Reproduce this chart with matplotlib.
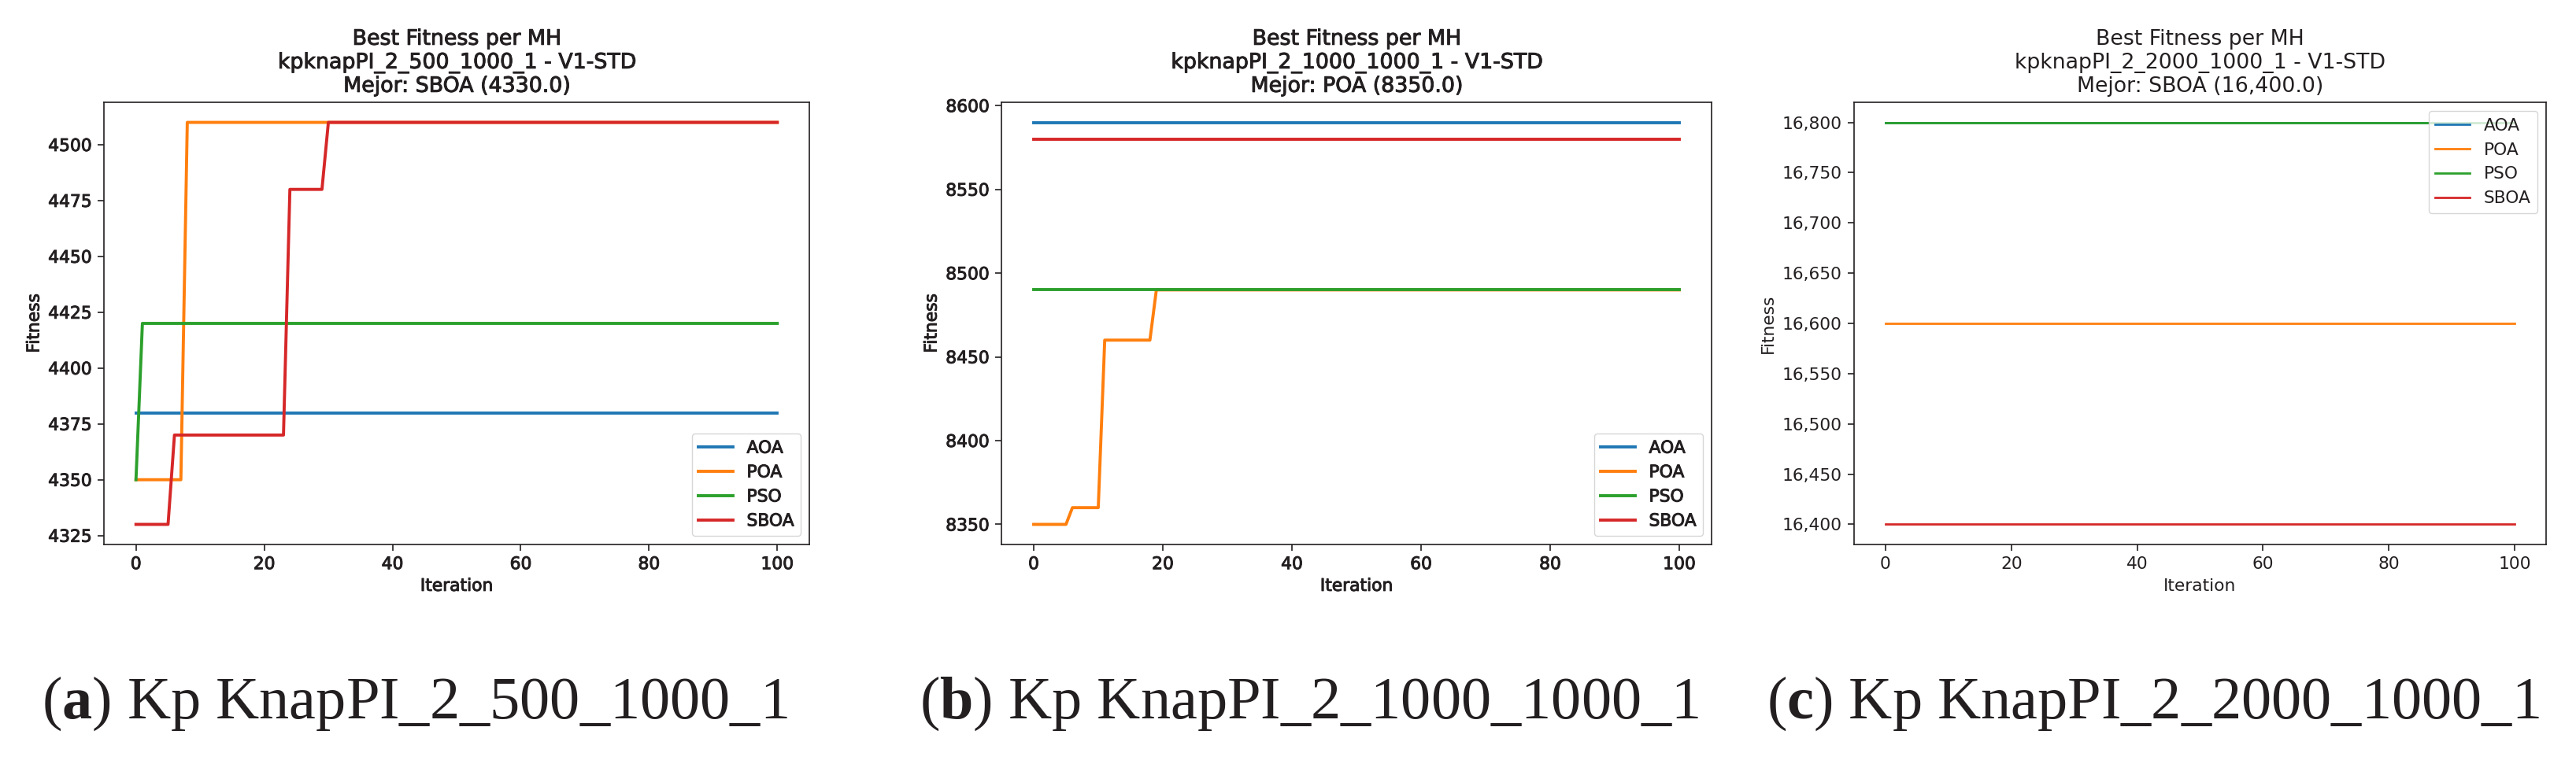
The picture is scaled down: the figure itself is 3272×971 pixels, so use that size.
import numpy as np
import matplotlib
matplotlib.use("Agg")
import matplotlib.pyplot as plt
from matplotlib import ticker
import matplotlib.patheffects as pe

plt.rcParams['font.family'] = ['DejaVu Sans']
plt.rcParams['mathtext.fontset'] = 'custom'
plt.rcParams['mathtext.rm'] = 'Liberation Serif'
plt.rcParams['mathtext.bf'] = 'Liberation Serif:bold'

INK = '#231f20'

# iterations 0..100, each series given as (value, run length) pairs
iterations = np.arange(0, 101)
algos = ['AOA', 'POA', 'PSO', 'SBOA']

runs_a = {
    'AOA': [(4380, 101)],
    'POA': [(4350, 8), (4510, 93)],
    'PSO': [(4350, 1), (4420, 100)],
    'SBOA': [(4330, 6), (4370, 18), (4480, 6), (4510, 71)],
}
runs_b = {
    'AOA': [(8590, 101)],
    'POA': [(8350, 6), (8360, 5), (8460, 8), (8490, 82)],
    'PSO': [(8490, 101)],
    'SBOA': [(8580, 101)],
}
runs_c = {
    'AOA': [(16800, 101)],
    'POA': [(16600, 101)],
    'PSO': [(16800, 101)],
    'SBOA': [(16400, 101)],
}

titles = [
    "Best Fitness per MH\nkpknapPI_2_500_1000_1 - V1-STD\nMejor: SBOA (4330.0)",
    "Best Fitness per MH\nkpknapPI_2_1000_1000_1 - V1-STD\nMejor: POA (8350.0)",
    "Best Fitness per MH\nkpknapPI_2_2000_1000_1 - V1-STD\nMejor: SBOA (16,400.0)",
]
letters = ['a', 'b', 'c']
captions = ["Kp KnapPI_2_500_1000_1", "Kp KnapPI_2_1000_1000_1",
            "Kp KnapPI_2_2000_1000_1"]


def expand(runs):
    vals = [v for v, n in runs]
    counts = [n for v, n in runs]
    return np.repeat(vals, counts)


W, H = 3272, 971
fig = plt.figure(figsize=(W / 100, H / 100), dpi=100)

# axes boxes in pixels: left, right
boxes = [(132, 1028), (1272, 2174), (2355, 3234)]
top, bottom = 130, 692
panels = [runs_a, runs_b, runs_c]
widths = [2.8, 2.8, 2.0]
heavy = [True, True, False]
legend_locs = ['lower right', 'lower right', 'upper right']
caption_x = [53, 1168, 2244]

for k in range(3):
    l, r = boxes[k]
    ax = fig.add_axes([l / W, (H - bottom) / H, (r - l) / W, (bottom - top) / H])
    for name in algos:
        ax.plot(iterations, expand(panels[k][name]), lw=widths[k], label=name)
    t = ax.set_title(titles[k], fontsize=19.3, color=INK, pad=9.5)
    xl = ax.set_xlabel("Iteration", fontsize=15.7, color=INK, labelpad=5.5)
    yl = ax.set_ylabel("Fitness", fontsize=15.7, color=INK, labelpad=5.5)
    ax.tick_params(labelsize=15.7, length=5.5, width=1.2, pad=5.5,
                   colors=INK)
    for sp in ax.spines.values():
        sp.set_linewidth(1.2)
        sp.set_color(INK)
    if k == 2:
        ax.yaxis.set_major_formatter(ticker.StrMethodFormatter('{x:,.0f}'))
    leg = ax.legend(loc=legend_locs[k], fontsize=15.7, labelcolor=INK)

    if heavy[k]:
        # the first two panels were rendered with a heavier-looking text
        stroke = [pe.withStroke(linewidth=0.7, foreground=INK)]
        texts = [t, xl, yl] + leg.get_texts()
        texts += ax.get_xticklabels() + ax.get_yticklabels()
        for txt in texts:
            txt.set_path_effects(stroke)

    fig.text(caption_x[k] / W, (H - 913) / H,
             "($\\mathbf{" + letters[k] + "}$) " + captions[k],
             fontsize=55, family='Liberation Serif', color=INK,
             ha='left', va='baseline')

fig.savefig("out.png", dpi=100)
